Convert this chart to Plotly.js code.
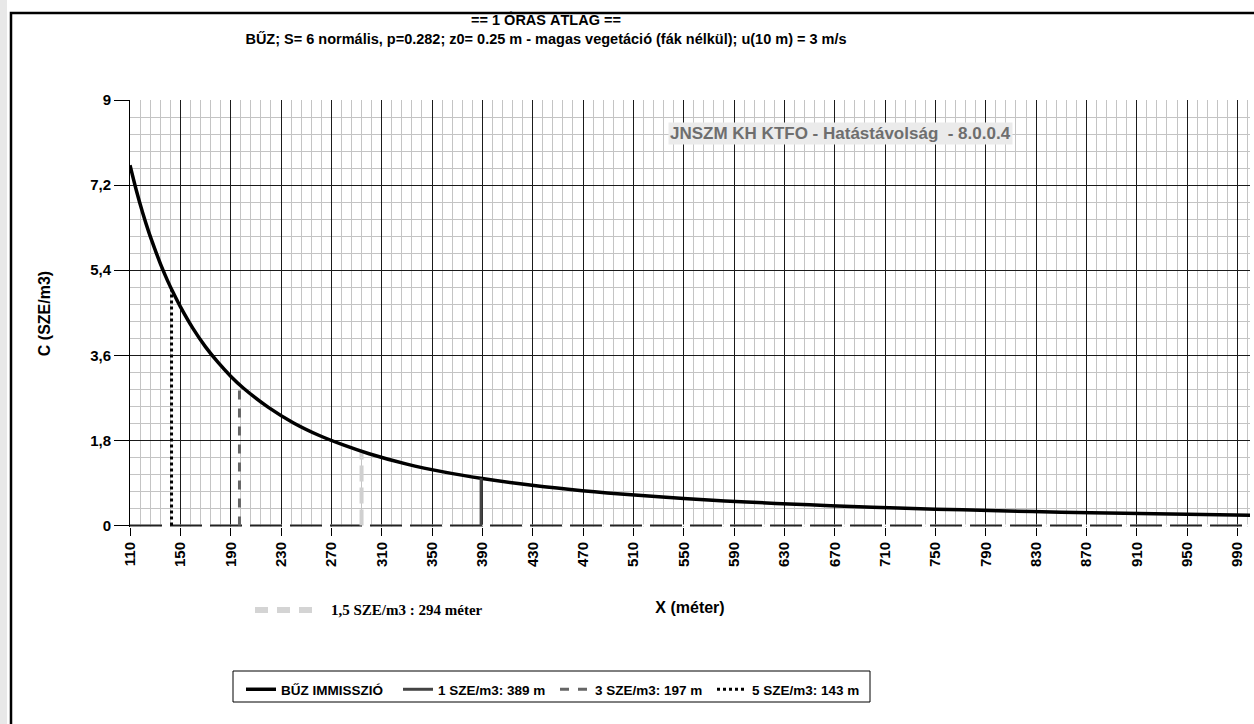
<!DOCTYPE html>
<html>
<head>
<meta charset="utf-8">
<script src="https://cdn.plot.ly/plotly-3.0.1.min.js"></script>
<style>
  html, body { margin: 0; padding: 0; background: #fff; }
  #chart { width: 1254px; height: 724px; }
</style>
</head>
<body>
<div id="chart"></div>
<script>
// ---- data ----
const distances = [110, 115, 120, 125, 130, 135, 140, 145, 150, 160, 170, 180, 190, 200, 220, 240, 260, 280, 300, 330, 360, 390, 420, 460, 500, 550, 600, 650, 700, 750, 800, 850, 900, 950, 1000];
const concentration = [7.62, 7.09, 6.62, 6.20, 5.83, 5.48, 5.17, 4.89, 4.63, 4.17, 3.78, 3.45, 3.16, 2.91, 2.50, 2.17, 1.91, 1.70, 1.52, 1.30, 1.13, 0.995, 0.884, 0.764, 0.668, 0.573, 0.498, 0.438, 0.389, 0.348, 0.314, 0.284, 0.259, 0.238, 0.219];

const limitNames = ['1 SZE/m3: 389 m', '3 SZE/m3: 197 m', '5 SZE/m3: 143 m'];
const limitDist = [389, 197, 143];
const limitConc = [1, 3, 5];

const extraLimitDist = 294;
const extraLimitConc = 1.6;
const extraLimitLabel = '1,5 SZE/m3 : 294 méter';

const xTickVals = [110, 150, 190, 230, 270, 310, 350, 390, 430, 470, 510, 550, 590, 630, 670, 710, 750, 790, 830, 870, 910, 950, 990];
const yTickVals = [0, 1.8, 3.6, 5.4, 7.2, 9];
const yTickText = ['0', '1,8', '3,6', '5,4', '7,2', '9'];
const xRange = [110, 1000];
const yRange = [-0.03, 9];

const titleLine1 = '== 1 ÓRÁS ÁTLAG ==';
const titleLine2 = 'BŰZ; S= 6 normális, p=0.282; z0= 0.25 m - magas vegetáció (fák nélkül); u(10 m) = 3 m/s';
const watermark = 'JNSZM KH KTFO - Hatástávolság  - 8.0.0.4';
const mainName = 'BŰZ IMMISSZIÓ';

// ---- traces ----
const F = 'Liberation Sans, Arial, sans-serif';
const traces = [];

// baseline at zero (white under-line + dark dashes)
traces.push({x: xRange, y: [0, 0], mode: 'lines', line: {color: '#ffffff', width: 2}, showlegend: false, hoverinfo: 'skip'});
traces.push({x: xRange, y: [0, 0], mode: 'lines', line: {color: '#222', width: 2, dash: '32px,8px'}, showlegend: false, hoverinfo: 'skip'});

// 1.5 SZE/m3 light line
traces.push({x: [extraLimitDist, extraLimitDist], y: [0, extraLimitConc], mode: 'lines',
  line: {color: '#d0d0d0', width: 4, dash: '16px,6px'}, showlegend: false, hoverinfo: 'skip'});

traces.push({x: distances, y: concentration, mode: 'lines', name: mainName,
  line: {color: '#000', width: 3.5, shape: 'spline'}});

const limitStyles = [
  {color: '#444', width: 3, dash: 'solid'},
  {color: '#666', width: 3, dash: 'dash'},
  {color: '#000', width: 3, dash: 'dot'}
];
for (let i = 0; i < limitNames.length; i++) {
  traces.push({x: [limitDist[i], limitDist[i]], y: [0, limitConc[i]], mode: 'lines',
    name: limitNames[i], line: limitStyles[i]});
}

const plotL = 130, plotR = 1250, plotT = 100, plotB = 527;
const pw = plotR - plotL, ph = plotB - plotT;
const px = v => (v - plotL) / pw;
const py = v => (plotB - v) / ph;

const layout = {
  width: 1254, height: 724,
  margin: {l: plotL, r: 1254 - plotR, t: plotT, b: 724 - plotB},
  paper_bgcolor: '#fff', plot_bgcolor: '#fff',
  font: {family: F, color: '#000'},
  title: {
    text: '<b>' + titleLine1 + '</b><br><b>' + titleLine2 + '</b>',
    font: {family: F, size: 14.5, color: '#000'},
    x: 546 / 1254, xanchor: 'center', xref: 'container',
    y: 1 - 25 / 724, yanchor: 'top', yref: 'container'
  },
  xaxis: {
    range: xRange, tickvals: xTickVals, tickangle: -90,
    ticks: 'outside', ticklen: 8, tickcolor: '#000', tickwidth: 1,
    tickfont: {family: F, size: 15, color: '#000', weight: 'bold'},
    showgrid: true, gridcolor: '#1a1a1a', gridwidth: 1,
    minor: {dtick: 8, tick0: 110, showgrid: true, gridcolor: '#c4c4c4', gridwidth: 1, ticks: ''},
    zeroline: false, showline: false,
    title: {text: '<b>X (méter)</b>', font: {family: F, size: 16, color: '#000'}, standoff: 35},
    fixedrange: true
  },
  yaxis: {
    range: yRange, tickvals: yTickVals, ticktext: yTickText,
    ticks: 'outside', ticklen: 15, tickcolor: '#000', tickwidth: 1,
    tickfont: {family: F, size: 15, color: '#000', weight: 'bold'},
    showgrid: true, gridcolor: '#1a1a1a', gridwidth: 1,
    minor: {dtick: 0.36, tick0: 0, showgrid: true, gridcolor: '#c4c4c4', gridwidth: 1, ticks: ''},
    zeroline: false, showline: true, linecolor: '#000', linewidth: 1,
    title: {text: '<b>C (SZE/m3)</b>', font: {family: F, size: 16, color: '#000'}, standoff: 35},
    fixedrange: true
  },
  showlegend: true,
  legend: {
    orientation: 'h', x: px(241), xanchor: 'left', y: py(674), yanchor: 'top',
    borderwidth: 0, bgcolor: 'rgba(0,0,0,0)',
    font: {family: F, size: 13.5, color: '#000', weight: 'bold'},
    traceorder: 'normal', itemwidth: 30,
    entrywidth: 112, entrywidthmode: 'pixels'
  },
  annotations: [
    {xref: 'paper', yref: 'paper', x: px(840), y: py(133), xanchor: 'center', yanchor: 'middle',
     text: '<b>' + watermark + '</b>', showarrow: false, bgcolor: '#ebebeb',
     font: {family: F, size: 17, color: '#6e6e6e'}, borderpad: 1},
    {xref: 'paper', yref: 'paper', x: px(329), y: py(610), xanchor: 'left', yanchor: 'middle',
     text: '<b>' + extraLimitLabel + '</b>', showarrow: false,
     font: {family: 'Liberation Serif, Times New Roman, serif', size: 15, color: '#000'}}
  ],
  shapes: [
    {type: 'line', xref: 'paper', yref: 'paper', x0: px(255), x1: px(318), y0: py(610), y1: py(610),
     line: {color: '#d4d4d4', width: 6, dash: '13px,9px'}},
    {type: 'rect', xref: 'paper', yref: 'paper', x0: px(0), x1: px(7), y0: py(724), y1: py(0),
     fillcolor: '#e8e8e8', line: {width: 0}, layer: 'below'},
    {type: 'rect', xref: 'paper', yref: 'paper', x0: px(11), x1: px(1290), y0: py(760), y1: py(13),
     fillcolor: 'rgba(0,0,0,0)', line: {color: '#000', width: 2.5}},
    {type: 'rect', xref: 'paper', yref: 'paper', x0: px(233), x1: px(870), y0: py(702), y1: py(671),
     fillcolor: 'rgba(0,0,0,0)', line: {color: '#000', width: 1}}
  ]
};

Plotly.newPlot('chart', traces, layout, {displayModeBar: false, staticPlot: true});
</script>
</body>
</html>
